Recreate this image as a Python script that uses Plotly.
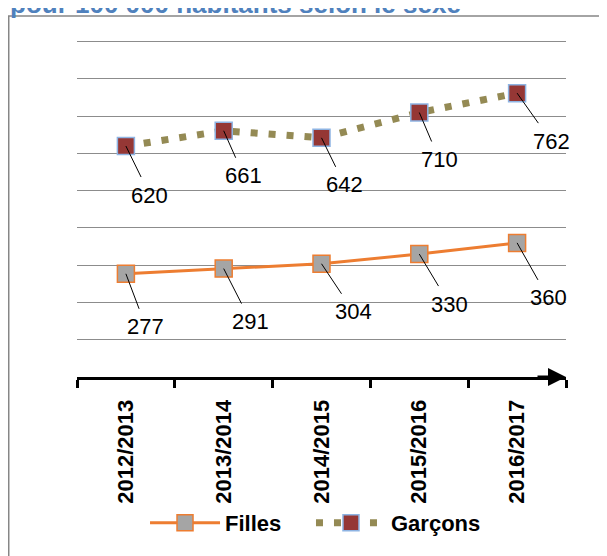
import plotly.graph_objects as go

# données
annees = ["2012/2013", "2013/2014", "2014/2015", "2015/2016", "2016/2017"]
filles = [277, 291, 304, 330, 360]
garcons = [620, 661, 642, 710, 762]

titre = "pour 100 000 habitants selon le sexe"

# décalages des étiquettes (pixels)
decal_filles = [(20, 53), (27, 53), (32, 48), (30, 50), (31, 55)]
decal_garcons = [(24, 49), (20, 45), (23, 47), (20, 47), (34, 48)]

police = "Liberation Sans"

fig = go.Figure()

fig.add_trace(go.Scatter(
    x=annees, y=filles, name="Filles", mode="lines+markers",
    line=dict(color="#ED7D31", width=3),
    marker=dict(symbol="square", size=17, color="#A5A5A5",
                line=dict(color="#ED7D31", width=1.5)),
    legend="legend",
))

fig.add_trace(go.Scatter(
    x=annees, y=garcons, name="Garçons", mode="lines+markers",
    line=dict(color="#948A54", width=7, dash="7px,11px"),
    marker=dict(symbol="square", size=17, color="#953735",
                line=dict(color="#8EB4E3", width=1.5)),
    legend="legend2",
))

# étiquettes de données avec traits de rappel
for serie, decal in [(filles, decal_filles), (garcons, decal_garcons)]:
    for a, v, (dx, dy) in zip(annees, serie, decal):
        fig.add_annotation(
            x=a, y=v, text=str(v), showarrow=True, arrowhead=0,
            arrowwidth=1, arrowcolor="black", ax=dx, ay=dy, borderpad=5,
            standoff=0, font=dict(family=police, size=22, color="black"),
        )

# flèche au bout de l'axe horizontal
fig.add_annotation(
    x=1.0, y=0, xref="paper", yref="paper", text="", showarrow=True,
    arrowhead=2, arrowsize=1.2, arrowwidth=3, arrowcolor="black",
    ax=-30, ay=0,
)

# titre (coupé en haut comme dans l'original)
fig.add_annotation(
    x=-0.1411, y=1.0510, xref="paper", yref="paper", text="<b>" + titre + "</b>",
    showarrow=False, xanchor="left", yanchor="bottom",
    font=dict(family=police, size=26, color="#4F81BD"),
)

# cadre du graphique
fig.add_shape(type="rect", xref="paper", yref="paper",
              x0=-0.1396, y0=-0.8, x1=1.3, y1=1.0649,
              line=dict(color="#868686", width=1.5), layer="below")

fig.update_xaxes(
    range=[-0.5, 4.5], autorange=False,
    showline=True, linecolor="black", linewidth=3,
    ticks="outside", tickson="boundaries", ticklen=8, tickwidth=3, tickcolor="black",
    tickangle=-90, showgrid=False, ticklabelstandoff=11,
    tickfont=dict(family=police, size=22, color="black", weight="bold"),
)
fig.update_yaxes(
    range=[0, 910], dtick=100, showticklabels=False, zeroline=False,
    showgrid=True, gridcolor="#8C8C8C", gridwidth=1.2,
)

police_legende = dict(family=police, size=22, color="black", weight="bold")

fig.update_layout(
    width=607, height=556,
    margin=dict(l=69, r=49, t=30, b=187),
    paper_bgcolor="white", plot_bgcolor="white",
    font=dict(family=police),
    showlegend=True,
    legend=dict(
        orientation="h", x=0.1391, y=-0.4307, xanchor="left", yanchor="middle",
        itemwidth=70, font=police_legende, bgcolor="rgba(0,0,0,0)",
    ),
    legend2=dict(
        orientation="h", x=0.4785, y=-0.4307, xanchor="left", yanchor="middle",
        itemwidth=70, font=police_legende, bgcolor="rgba(0,0,0,0)",
    ),
)

fig.write_html("out.html")
